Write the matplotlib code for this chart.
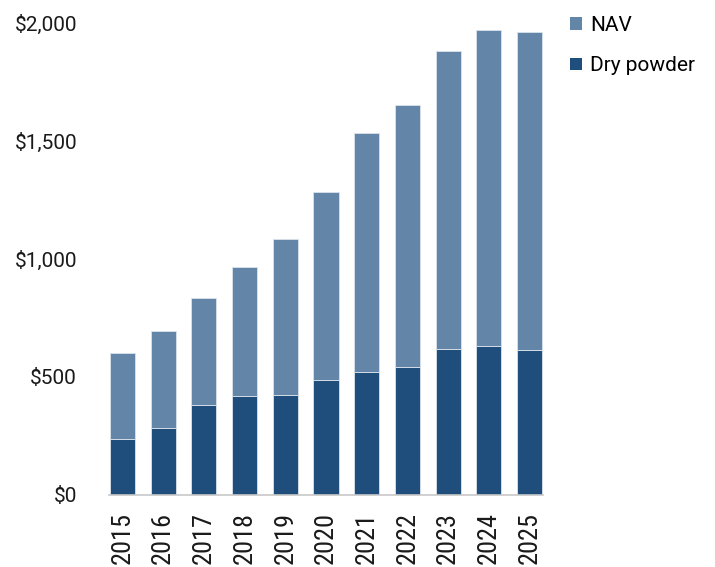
import matplotlib.pyplot as plt
from matplotlib.patches import Patch
import numpy as np

years = ['2015', '2016', '2017', '2018', '2019', '2020',
         '2021', '2022', '2023', '2024', '2025']
# totals ($bn), dry powder is the bottom segment
total = [600, 695, 835, 968, 1085, 1286, 1534, 1652, 1883, 1970, 1960]
dry_powder = [237, 282, 382, 420, 425, 489, 523, 543, 620, 632, 615]
nav = [t - d for t, d in zip(total, dry_powder)]

y_ticks = [0, 500, 1000, 1500, 2000]
y_labels = ['$0', '$500', '$1,000', '$1,500', '$2,000']

dark = '#1f4e7d'
light = '#6285a8'
edge = '#dbe3ec'

cond = ['Roboto Condensed', 'Liberation Sans Narrow', 'Roboto', 'DejaVu Sans']
plt.rcParams['font.family'] = ['Roboto', 'DejaVu Sans']

fig = plt.figure(figsize=(7.15, 5.67), dpi=100)
ax = fig.add_axes([109 / 715, 72 / 567, 434 / 715, 472 / 567])

x = np.arange(len(years))
w = 0.62
ax.bar(x, dry_powder, w, color=dark, edgecolor=edge, linewidth=0.6, zorder=2)
ax.bar(x, nav, w, bottom=dry_powder, color=light, edgecolor=edge, linewidth=0.6, zorder=2)

ax.set_xlim(-0.33, len(years) - 1 + 0.33)
ax.set_ylim(0, 2000)
ax.set_yticks(y_ticks)
ax.set_yticklabels(y_labels, fontsize=15, color='#1a1a1a')
ax.set_xticks(x)
ax.set_xticklabels(years, rotation=90, fontsize=19, family=cond, color='#1a1a1a')
ax.tick_params(axis='y', length=0, pad=23)
ax.tick_params(axis='x', length=0, pad=12)

for s in ['top', 'right', 'left']:
    ax.spines[s].set_visible(False)
ax.spines['bottom'].set_color('#c8c8c8')
ax.spines['bottom'].set_linewidth(1.2)
ax.spines['bottom'].set_zorder(3)

handles = [Patch(facecolor=light, edgecolor='none', label='NAV'),
           Patch(facecolor=dark, edgecolor='none', label='Dry powder')]
fig.legend(handles=handles, loc='upper left', bbox_to_anchor=(570 / 715, 0.972),
           bbox_transform=fig.transFigure, frameon=False, fontsize=15,
           borderpad=0, borderaxespad=0, handlelength=0.58, handleheight=0.58,
           handletextpad=0.4, labelspacing=1.03)

fig.savefig('out.png', dpi=100)
